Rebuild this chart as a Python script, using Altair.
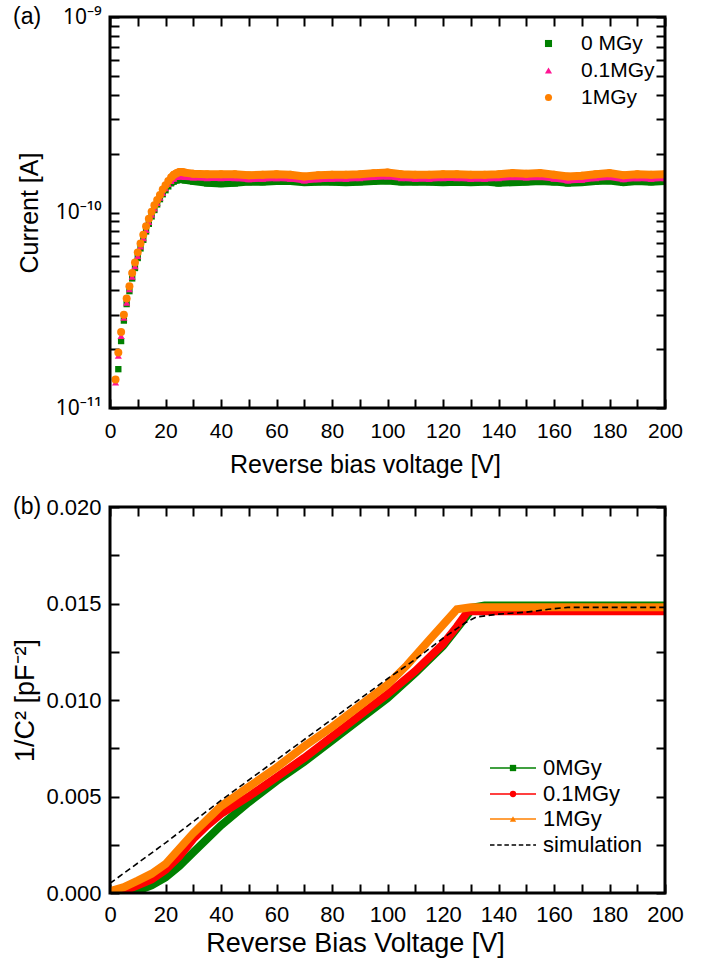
import altair as alt
import pandas as pd

FONT = "Liberation Sans"
SUP_FONT = "Noto Sans"

# ---------------- Panel (a): I-V ----------------
A_SERIES = ["0 MGy", "0.1MGy", "1MGy"]
A_COLORS = ["#008000", "#FF1493", "#FF8000"]
A_SHAPES = ["square", "triangle-up", "circle"]

# rising part, current in pA
A_V_RISE_0 = list(range(3, 28))
A_I_RISE_0 = [15.8, 22.0, 28.0, 34.0, 39.6, 46.0, 52.0, 58.5, 65.5, 72.5,
              80.0, 87.5, 95.5, 103, 110, 117, 124, 130, 136, 141,
              144, 146, 147, 147, 146]
A_V_RISE = list(range(2, 28))
A_I_RISE_01 = [13.5, 18.5, 23.4, 29.0, 34.6, 40.5, 47.0, 53.2, 60.0, 67.0,
               74.0, 81.5, 89.5, 97.5, 105, 112, 119, 126, 133, 140,
               145, 149, 152, 153, 153, 152]
A_I_RISE_1 = [14.0, 19.2, 24.5, 30.0, 36.3, 42.0, 49.0, 55.5, 62.5, 69.5,
              77.0, 85.0, 93.0, 101, 109, 116, 123, 131, 138, 145,
              151, 156, 159, 161, 161, 160]

# plateau part, current in pA
A_V_PLAT = list(range(30, 201, 5))
A_I_PLAT_0 = [144, 141, 140, 141, 143, 143, 144, 144, 142, 143,
              143, 142, 143, 144, 145, 143, 143, 143, 142, 143,
              142, 143, 141, 142, 143, 144, 143, 141, 142, 144,
              145, 142, 144, 143, 144]
A_I_PLAT_01 = [151, 150, 150, 150, 148, 149, 150, 149, 146, 148,
               149, 149, 150, 152, 153, 150, 149, 149, 150, 150,
               149, 149, 150, 152, 151, 152, 149, 146, 147, 150,
               152, 148, 150, 149, 150]
A_I_PLAT_1 = [158, 157, 157, 157, 155, 156, 157, 156, 153, 155,
              156, 156, 157, 159, 160, 157, 156, 156, 157, 157,
              156, 156, 157, 159, 158, 159, 156, 153, 154, 157,
              159, 155, 157, 156, 157]

A_X_TICKS = list(range(0, 201, 10))
A_Y_TICKS = [k * 10.0 ** e for e in (-11, -10) for k in range(1, 10)] + [1e-9]

# ---------------- Panel (b): 1/C^2 ----------------
B_SERIES = ["0MGy", "0.1MGy", "1MGy", "simulation"]
B_COLORS = ["#008000", "#FF0000", "#FF8000", "#000000"]
B_SHAPES = ["square", "circle", "triangle-up", None]

B_V_0 = [0, 5, 10, 15, 20, 25, 30, 35, 40, 50, 60, 70, 80, 90, 100, 110, 120,
         125, 131, 135, 140, 150, 160, 170, 180, 190, 200]
B_C_0 = [0.0000, 0.00003, 0.00012, 0.0004, 0.0008, 0.0014, 0.0021, 0.0028,
         0.0035, 0.0047, 0.0058, 0.0068, 0.0079, 0.0090, 0.0101, 0.0114,
         0.0128, 0.0137, 0.0148, 0.0149, 0.0149, 0.0149, 0.0149, 0.0149,
         0.0149, 0.0149, 0.0149]
B_V_01 = [0, 5, 10, 15, 20, 25, 30, 35, 40, 50, 60, 70, 80, 90, 100, 110, 120,
          125, 129, 135, 140, 150, 160, 170, 180, 190, 200]
B_C_01 = [0.0000, 0.0001, 0.0004, 0.0007, 0.0012, 0.0019, 0.0028, 0.0035,
          0.0041, 0.0050, 0.0060, 0.0070, 0.0081, 0.0092, 0.0103, 0.0115,
          0.0129, 0.0138, 0.0146, 0.0146, 0.0146, 0.0146, 0.0146, 0.0146,
          0.0146, 0.0146, 0.0146]
B_V_1 = [0, 5, 10, 15, 20, 25, 30, 35, 40, 50, 60, 70, 80, 90, 100, 107, 115,
         120, 125, 130, 140, 150, 160, 170, 180, 190, 200]
B_C_1 = [0.0001, 0.0003, 0.00064, 0.0010, 0.0015, 0.0023, 0.0031, 0.0038,
         0.0045, 0.0055, 0.0065, 0.0076, 0.0086, 0.0097, 0.0108, 0.0118,
         0.0131, 0.0139, 0.0147, 0.0148, 0.0148, 0.0148, 0.0148, 0.0148,
         0.0148, 0.0148, 0.0148]
B_V_SIM = [0, 20, 40, 60, 80, 100, 110, 120, 125, 128, 132, 140, 150, 158,
           165, 180, 200]
B_C_SIM = [0.0005, 0.0026, 0.0048, 0.0069, 0.0090, 0.0111, 0.0121, 0.0132,
           0.0137, 0.0140, 0.0143, 0.01445, 0.01455, 0.0147, 0.0148, 0.0148,
           0.0148]

B_X_TICKS = list(range(0, 201, 10))
B_Y_TICKS = [i * 0.0025 for i in range(9)]

# ---------------- layout ----------------
W = 555
H_A = 391
H_B = 386
TICK = 9

def axis(orient, values, label_expr=None, title=None, labels=True,
         label_size=21, title_size=23, label_pad=6, title_pad=8,
         label_font=FONT, title_x=None):
    kw = dict(orient=orient, values=values, tickSize=TICK, tickWidth=2,
              tickColor="black", offset=-TICK, domain=False, grid=False,
              labels=labels, labelFont=label_font, labelFontSize=label_size,
              labelColor="black", labelFlush=False, labelOverlap=False,
              labelPadding=label_pad, titleFont=FONT, titleFontSize=title_size,
              titleFontWeight="normal", titleColor="black",
              titlePadding=title_pad)
    if label_expr:
        kw["labelExpr"] = label_expr
    if title_x is not None:
        kw["titleX"] = title_x
    kw["title"] = title if title is not None else None
    return alt.Axis(**kw)

def frame(h):
    return alt.Chart(pd.DataFrame({"f": [0]})).mark_rect(
        fillOpacity=0, stroke="black", strokeWidth=3).encode(
        x=alt.value(0), x2=alt.value(W), y=alt.value(0), y2=alt.value(h))

# ----- panel (a) -----
xs_a = alt.Scale(domain=[0, 200], nice=False, zero=False)
ys_a = alt.Scale(type="log", domain=[1e-11, 1e-9], nice=False)

def series_a(vs_rise, is_rise, is_plat, name):
    v = list(vs_rise) + A_V_PLAT
    i = [x * 1e-12 for x in list(is_rise) + list(is_plat)]
    return pd.DataFrame({"V": v, "I": i, "series": name})

dfs_a = [series_a(A_V_RISE_0, A_I_RISE_0, A_I_PLAT_0, A_SERIES[0]),
         series_a(A_V_RISE, A_I_RISE_01, A_I_PLAT_01, A_SERIES[1]),
         series_a(A_V_RISE, A_I_RISE_1, A_I_PLAT_1, A_SERIES[2])]
sizes_a = [40, 50, 64]
widths_a = [7, 6, 8]

legend_a = alt.Legend(title=None, orient="none", legendX=428, legendY=16,
                      labelFont=FONT, labelFontSize=21, labelColor="black",
                      symbolSize=50, rowPadding=5, labelOffset=22,
                      symbolStrokeWidth=0, padding=0)

layers_a = []
for k, df in enumerate(dfs_a):
    line = alt.Chart(df).transform_filter("datum.V >= 22").mark_line(
        color=A_COLORS[k], strokeWidth=widths_a[k], clip=True).encode(
        x=alt.X("V:Q", scale=xs_a, axis=None),
        y=alt.Y("I:Q", scale=ys_a, axis=None))
    pts = alt.Chart(df).mark_point(filled=True, opacity=1, clip=True,
                                   size=sizes_a[k]).encode(
        x=alt.X("V:Q", scale=xs_a, axis=None),
        y=alt.Y("I:Q", scale=ys_a, axis=None),
        color=alt.Color("series:N", scale=alt.Scale(domain=A_SERIES, range=A_COLORS), legend=legend_a),
        shape=alt.Shape("series:N", scale=alt.Scale(domain=A_SERIES, range=A_SHAPES), legend=legend_a))
    layers_a += [line, pts]

ax_df_a = pd.DataFrame({"V": [0, 200], "I": [1e-11, 1e-9]})
ylab_a = ("datum.value == 1e-9 ? '10\u207b\u2079' : datum.value == 1e-10 ? "
          "'10\u207b\u00b9\u2070' : datum.value == 1e-11 ? '10\u207b\u00b9\u00b9' : ''")
axes_bl_a = alt.Chart(ax_df_a).mark_point(opacity=0).encode(
    x=alt.X("V:Q", scale=xs_a, axis=axis("bottom", A_X_TICKS,
            "datum.value % 20 == 0 ? datum.label : ''", "Reverse bias voltage [V]",
            label_pad=12, title_pad=11, title_size=25, title_x=255)),
    y=alt.Y("I:Q", scale=ys_a, axis=axis("left", A_Y_TICKS, ylab_a, "Current [A]",
            label_pad=9, title_pad=13, title_size=25, label_font=SUP_FONT,
            label_size=21)))
axes_tr_a = alt.Chart(ax_df_a).mark_point(opacity=0).encode(
    x=alt.X("V:Q", scale=xs_a, axis=axis("top", A_X_TICKS, labels=False)),
    y=alt.Y("I:Q", scale=ys_a, axis=axis("right", A_Y_TICKS, labels=False)))
tag_a = alt.Chart(pd.DataFrame({"t": ["(a)"]})).mark_text(
    align="left", baseline="middle", font=FONT, fontSize=23, color="black").encode(
    text="t:N", x=alt.value(-97), y=alt.value(0))

chart_a = alt.layer(*layers_a, axes_bl_a, axes_tr_a, tag_a, frame(H_A)).resolve_axis(
    x="independent", y="independent").properties(width=W, height=H_A)

# ----- panel (b) -----
xs_b = alt.Scale(domain=[0, 200], nice=False, zero=False)
ys_b = alt.Scale(domain=[0, 0.02], nice=False, zero=False)

def line_b(vs, cs, color, width, dash=None):
    df = pd.DataFrame({"V": vs, "C": cs})
    kw = dict(color=color, strokeWidth=width, clip=True)
    if dash:
        kw["strokeDash"] = dash
    return alt.Chart(df).mark_line(**kw).encode(
        x=alt.X("V:Q", scale=xs_b, axis=None),
        y=alt.Y("C:Q", scale=ys_b, axis=None))

layers_b = [line_b(B_V_0, B_C_0, B_COLORS[0], 8),
            line_b(B_V_01, B_C_01, B_COLORS[1], 8),
            line_b(B_V_1, B_C_1, B_COLORS[2], 8),
            line_b(B_V_SIM, B_C_SIM, B_COLORS[3], 1.6, [6, 3.5])]

ax_df_b = pd.DataFrame({"V": [0, 200], "C": [0, 0.02]})
axes_bl_b = alt.Chart(ax_df_b).mark_point(opacity=0).encode(
    x=alt.X("V:Q", scale=xs_b, axis=axis("bottom", B_X_TICKS,
            "datum.value % 20 == 0 ? datum.label : ''", "Reverse Bias Voltage [V]",
            label_size=22, title_size=27, label_pad=11, title_pad=5, title_x=245)),
    y=alt.Y("C:Q", scale=ys_b, axis=axis("left", B_Y_TICKS,
            "round(datum.value * 10000) % 50 == 0 ? format(datum.value, '.3f') : ''",
            "1/C\u00b2 [pF\u207b\u00b2]", label_size=22, title_size=27,
            label_pad=9, title_pad=6)))
axes_tr_b = alt.Chart(ax_df_b).mark_point(opacity=0).encode(
    x=alt.X("V:Q", scale=xs_b, axis=axis("top", B_X_TICKS, labels=False)),
    y=alt.Y("C:Q", scale=ys_b, axis=axis("right", B_Y_TICKS, labels=False)))
tag_b = alt.Chart(pd.DataFrame({"t": ["(b)"]})).mark_text(
    align="left", baseline="middle", font=FONT, fontSize=23, color="black").encode(
    text="t:N", x=alt.value(-97), y=alt.value(0))

# manual legend for panel (b): line + marker entries
leg_b = []
row_y = [261, 287, 312, 338]
for k, name in enumerate(B_SERIES):
    ldf = pd.DataFrame({"label": [name]})
    rule_kw = dict(color=B_COLORS[k], strokeWidth=1.5)
    if B_SHAPES[k] is None:
        rule_kw["strokeDash"] = [4.5, 2.7]
    leg_b.append(alt.Chart(ldf).mark_rule(**rule_kw).encode(
        x=alt.value(380), x2=alt.value(426), y=alt.value(row_y[k])))
    if B_SHAPES[k] is not None:
        leg_b.append(alt.Chart(ldf).mark_point(
            filled=True, opacity=1, shape=B_SHAPES[k], color=B_COLORS[k], size=40).encode(
            x=alt.value(403), y=alt.value(row_y[k])))
    leg_b.append(alt.Chart(ldf).mark_text(
        align="left", baseline="middle", font=FONT, fontSize=22, color="black").encode(
        x=alt.value(433), y=alt.value(row_y[k]), text="label:N"))

chart_b = alt.layer(*layers_b, axes_bl_b, axes_tr_b, tag_b, *leg_b, frame(H_B)).resolve_axis(
    x="independent", y="independent").properties(width=W, height=H_B)

chart = alt.vconcat(chart_a, chart_b, spacing=99, bounds="flush").properties(
    padding={"left": 11, "top": 5, "right": 5, "bottom": 5},
    background="white"
).configure_view(stroke=None).configure(font=FONT)

chart.save("out.html", embed_options={"renderer": "svg", "actions": False})
